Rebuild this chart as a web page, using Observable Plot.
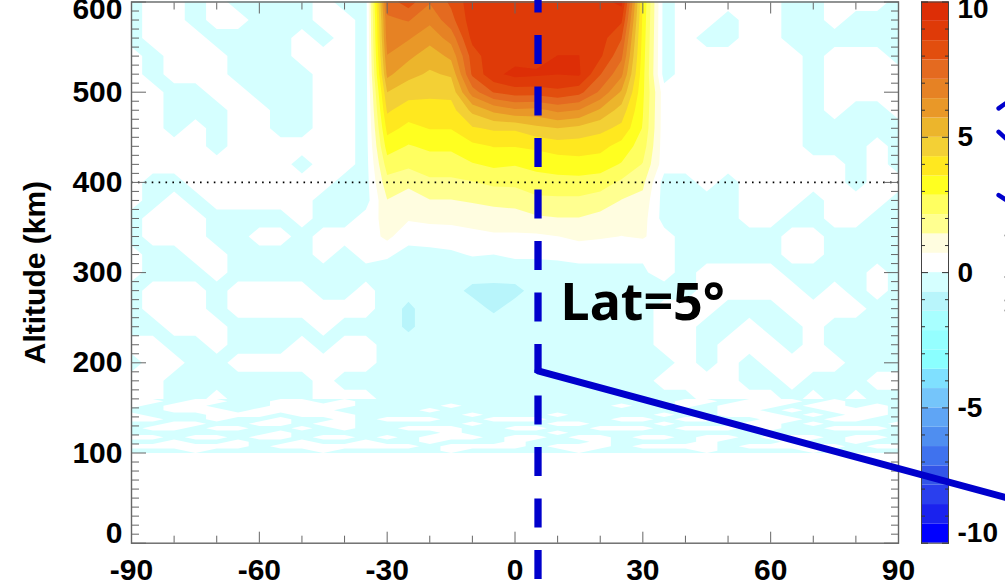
<!DOCTYPE html>
<html>
<head>
<meta charset="utf-8">
<script src="https://cdn.jsdelivr.net/npm/d3@7"></script>
<script src="https://cdn.jsdelivr.net/npm/@observablehq/plot@0.6"></script>
<style>
html,body{margin:0;padding:0;background:#fff;overflow:hidden;width:1005px;height:581px}
#wrap{position:relative;width:1005px;height:581px}
#wrap svg{position:absolute;top:0;left:0;background:transparent}
</style>
</head>
<body>
<div id="wrap"></div>
<script>
// Sampled field: w = weakly positive (white), c = weakly negative (palest blue)
const weak = {w: 0.3, c: -0.3};
// latitudes -90..-35 by 5, altitudes 600..160 by 20
const outerLeft = ["cwwcwccccwcc","cwwcwwcccwwc","cwwwccccwcwc","wcwwwcccwwwc","wcwwwccccwwc","wwccwwcccwwc",
"wwcccwwccwwc","wwcwcwwccwwc","wwwwcwwwwwwc","wwwwwwwwcwwc","wccwwwwwwwcc","wcwcwwwwwccc","cwwwccccwccw",
"cwwwccwwcwww","wccwwccccwcw","wcccwccccccc","cwwwcwwwwccw","cwwwcwwwwwww","ccwwwccccwcc","wwccwcccwcww",
"cwwccwwwwwww","wwcccccccwcc","wwccwccccwww"];
// latitudes 35..90 by 5, same altitudes
const outerRight = ["cwwwwwccwwwc","cwwcwwccwccc","cwccwwcccccc","cwwwwwwcwwwc","cwwwwwwcwwww","wwwwwwwcwwww",
"wwwwwwwcwccw","wwwwwwwccccc","wwwwwwwcccwc","wwwwwwwwwcwc","ccwcwwwwwcww","ccccwwwcwwwc","ccccwwccwwcc",
"wcccccwwcccc","wcccccwwcccc","wcwwwwccccwc","ccwwwwwcwcwc","wwwcccwwwwcc","wwccwccwcccc","wwcwwwcwcccc",
"cwcwcwwwwccc","wwwwccwcccww","ccwwwwcwcwcc"];
// central band, latitudes -30..30 by 5, altitudes 600..300 by 20 (one list per latitude)
const moundM30 = [7.5,7,6.8,6.4,5.9,5,4.4,3.8,3.2,2.5,1.9,1.4,1,0.9,0.1,-0.3];
const moundM25 = [8.2,7.2,6.5,5.9,5.2,4.6,3.9,3.4,2.8,2.3,1.6,1.1,0.8,0.2,-0.2,-0.4];
const moundM20 = [7.2,6.6,6,5.3,4.9,4.5,3.9,3.6,3,2.5,2,1.4,0.9,0.3,-0.2,-0.4];
const moundM15 = [8,7.6,6.7,5.9,5.1,4.5,4,3.6,3,2.5,2,1.4,0.95,0.3,-0.1,-0.4];
const moundM10 = [9,9,8.8,8.2,8,6.8,5.2,4.2,3.4,2.8,2.1,1.5,1,0.5,0.05,-0.4];
const moundM05 = [9,9,9,9.1,9.1,7.9,5.9,4.4,3.6,3,2.3,1.6,1.1,0.6,0,-0.4];
const moundP00 = [9,9,9,9,9.5,8.2,6.3,4.4,3.6,2.9,2.3,1.7,1.1,0.6,0.1,-0.3];
const moundP05 = [9,9,9,9,9.4,8.2,6.2,4.8,3.7,3.1,2.5,2,1.3,0.6,0.1,-0.3];
const moundP10 = [9,9,9,9.3,9.3,8.4,6.6,5,3.9,3.2,2.6,2,1.4,0.7,0.15,-0.3];
const moundP15 = [9,9,9,9.3,9.4,8.1,6.4,4.8,3.9,3.3,2.6,2,1.4,0.9,0.2,-0.2];
const moundP20 = [9,9,8.9,8.7,7.9,7,5.6,4.5,3.8,3.2,2.5,1.8,1.2,0.8,0.2,-0.2];
const moundP25 = [9.5,8.7,7.9,7.3,6.6,5.6,4.7,4.1,3.3,2.8,2,1.4,1,0.7,0.2,-0.2];
const moundP30 = [3.5,3.4,3.3,3.2,3.1,3,2.9,2.8,2.5,2.1,1.6,1.2,1,0.8,0.1,-0.1];
const mound = [moundM30,moundM25,moundM20,moundM15,moundM10,moundM05,moundP00,moundP05,moundP10,moundP15,moundP20,moundP25,moundP30];
// central band, altitudes 280..160 by 20
const under = [
 [-.4,-.5,-.4,-.45,-.9,-.95,-.95,-.4,-.4,-.4,-.3,-.3,-.3],
 [-.4,-.85,-.4,-.3,-.4,-.85,-.4,-.3,-.4,-.3,-.3,-.3,-.3],
 [-.4,-.85,-.4,-.3,-.3,-.3,-.3,-.3,-.3,-.3,-.3,-.3,-.3],
 [-.3,-.4,-.3,-.3,-.3,-.3,-.3,-.3,-.3,-.3,-.3,-.3,-.3],
 [-.3,-.3,-.3,-.3,-.3,-.3,-.3,-.3,-.3,-.3,-.3,-.3,-.3],
 [-.3,-.3,-.3,-.3,-.3,-.3,-.3,-.3,-.3,-.3,-.3,-.3,-.3],
 [-.3,-.3,-.3,-.3,-.3,-.3,-.3,-.3,-.3,-.3,-.3,-.3,-.3]
];
// ripple layer, all latitudes by 5, altitudes 157.5..102.5 by 5
const ripple = [
"wwcwwccwwcwcccccccccccccccwwcwwwcwcc",
"wcwwcccwwwwccccwcccccccwccwcwwwcwwcwc",
"ccwwwcwwwwccccwcccccccccccccwwcwcwwwcc",
"wcccwwwcwwwcccccwcccwccccwccwwwcwcwwc",
"wwccwccwccwcwwwccwwwcccwwcwwccwwcwwcc",
"ccwwccwwcwwcccccwcccwwcccwcccwwcwcccw",
"cwwcwwccwcwccwwwccwwccwwwcwwwcwccwwwc",
"cccccccwcccccccwccccwcccccccccccccccc",
"wwcwwcwwcwwcwcwwwcwwcwwcwwcwwcwwwcwwc",
"ccwccwccwccwccwcccwcccwccccwcccwccwcc",
"wwwwwwcwwwwwwwcwwwwcwwwcwwwwcwwwwwcww",
"cccwcccccwcccccwcccccwcccccwccccwcccc"
];
// Colour bands, low to high
const bandColors = ["#0000ff","#1a22ee","#2a3fee","#3355e8","#3f72ee","#4f8ef0","#5fa5f5","#75c5fa","#7fe0ff","#8affff","#95ffff","#a8ffff","#b8f5fb","#d5ffff",
"#ffffff","#fffde0","#ffff90","#ffff60","#ffff20","#ffe81f","#f3d035","#ecb52c","#e99828","#e68224","#e46a20","#e24e0e","#df3a08","#dd2e06"];
const latTicksMajor = [-90,-60,-30,0,30,60,90];
const latTicksMinor = [-80,-70,-50,-40,-20,-10,10,20,40,50,70,80];
const altTicksMajor = [0,100,200,300,400,500,600];
const altTicksMinor = [10,20,30,40,50,60,70,80,90,110,120,130,140,150,160,170,180,190,210,220,230,240,250,260,270,280,290,310,320,330,340,350,360,370,380,390,410,420,430,440,450,460,470,480,490,510,520,530,540,550,560,570,580,590];
const scaleMajor = [-10,-5,0,5,10];
const scaleMinor = [-9,-8,-7,-6,-4,-3,-2,-1,1,2,3,4,6,7,8,9];
// Annotations
const sliceLat = 5.4;
const pointer = [{lat:5.4,alt:191},{lat:115.1,alt:50.7}];
const braceBits = [
 [{lat:113.5,alt:482},{lat:115.1,alt:487.5}],
 [{lat:113.5,alt:456},{lat:115.1,alt:449}],
 [{lat:113.5,alt:386},{lat:115.1,alt:381}]
];
const greyBits = [{lat:115,alt:341},{lat:115,alt:295},{lat:115,alt:269},{lat:115,alt:258}];

const levels = d3.range(29).map(i => -10 + i*5/7);
const decode = s => Array.from(s, ch => weak[ch]);

const mainGrid = [];
outerLeft.forEach((left,r) => {
  const mid = r < 16 ? mound.map(col => col[r]) : under[r-16];
  mainGrid.push(...decode(left), ...mid, ...decode(outerRight[r]));
});
const rippleGrid = ripple.flatMap(s => decode(s.padEnd(37,"c").slice(0,37)));

const font = "'Liberation Sans',Arial,sans-serif";
const axisStroke = "#666";
const color = {type:"threshold",domain:levels.slice(1,-1),range:bandColors};
const thresholds = levels.slice(12,-1);
const plain = d => String(d);
const none = () => null;

const main = Plot.plot({
  width:1005,height:581,
  marginLeft:131,marginRight:107,marginTop:1.5,marginBottom:38.3,
  style:{background:"transparent",fontFamily:font},
  x:{domain:[-90,90],range:[131,898],axis:null},
  y:{domain:[0,600],range:[542.7,1.5],axis:null},
  color,
  marks:[
    Plot.contour(mainGrid,{value:Plot.identity,width:37,height:23,x1:-92.5,x2:92.5,y1:610,y2:150,thresholds,fill:"value",clip:true}),
    Plot.contour(rippleGrid,{value:Plot.identity,width:37,height:12,x1:-92.5,x2:92.5,y1:160,y2:100,thresholds,fill:"value",clip:true}),
    Plot.ruleY([400],{stroke:"#000",strokeWidth:1.6,strokeDasharray:"1.6,5.3"}),
    Plot.frame({stroke:axisStroke,strokeWidth:1.4}),
    Plot.axisX({anchor:"bottom",ticks:latTicksMajor,tickSize:-11,tickFormat:none,stroke:axisStroke,label:null}),
    Plot.axisX({anchor:"bottom",ticks:latTicksMinor,tickSize:-7,tickFormat:none,stroke:axisStroke,label:null}),
    Plot.axisX({anchor:"top",ticks:latTicksMajor,tickSize:-11,tickFormat:none,stroke:axisStroke,label:null}),
    Plot.axisX({anchor:"top",ticks:latTicksMinor,tickSize:-7,tickFormat:none,stroke:axisStroke,label:null}),
    Plot.axisY({anchor:"left",ticks:altTicksMajor,tickSize:-15,tickFormat:none,stroke:axisStroke,label:null}),
    Plot.axisY({anchor:"left",ticks:altTicksMinor,tickSize:-8,tickFormat:none,stroke:axisStroke,label:null}),
    Plot.axisY({anchor:"right",ticks:altTicksMajor,tickSize:-15,tickFormat:none,stroke:axisStroke,label:null}),
    Plot.axisY({anchor:"right",ticks:altTicksMinor,tickSize:-8,tickFormat:none,stroke:axisStroke,label:null}),
    Plot.axisX({anchor:"bottom",ticks:latTicksMajor,tickSize:0,tickPadding:15,fontSize:30,fontWeight:"bold",color:"#000",label:null,tickFormat:plain}),
    Plot.axisY({anchor:"left",ticks:[100,200,300,400,500],tickSize:0,tickPadding:9,fontSize:30,fontWeight:"bold",color:"#000",label:null,tickFormat:plain}),
    Plot.axisY({anchor:"left",ticks:[0],tickSize:0,tickPadding:9,dy:-10,fontSize:30,fontWeight:"bold",color:"#000",label:null,tickFormat:plain}),
    Plot.axisY({anchor:"left",ticks:[600],tickSize:0,tickPadding:9,dy:7,fontSize:30,fontWeight:"bold",color:"#000",label:null,tickFormat:plain}),
    Plot.text(["Altitude (km)"],{frameAnchor:"left",dx:-96,textAnchor:"middle",rotate:-90,fontSize:30,fontWeight:"bold",fill:"#000"}),
    Plot.ruleX([sliceLat],{y1:620,y2:-44,stroke:"#0000cc",strokeWidth:7.3,strokeDasharray:"29,22.5"}),
    Plot.line(pointer,{x:"lat",y:"alt",stroke:"#0000cc",strokeWidth:7}),
    ...braceBits.map(b => Plot.line(b,{x:"lat",y:"alt",stroke:"#0000cc",strokeWidth:4.5,strokeLinecap:"round"})),
    Plot.dot(greyBits,{x:"lat",y:"alt",r:1,fill:"#aaa"}),
    Plot.text(["Lat=5°"],{x:10.7,y:266,textAnchor:"start",fontSize:52,fontWeight:"bold",fontFamily:"'Noto Sans'",fill:"#000",style:{letterSpacing:"2.5px"}})
  ]
});

const bar = Plot.plot({
  width:1005,height:581,
  marginLeft:921,marginRight:57,marginTop:1.5,marginBottom:38.3,
  style:{background:"transparent",fontFamily:font},
  x:{domain:[0,1],range:[921,948],axis:null},
  y:{domain:[-10,10],range:[542.7,1.5],axis:null},
  color,
  marks:[
    Plot.rect(levels.slice(0,-1),{x1:0,x2:1,y1:d=>d,y2:(d,i)=>levels[i+1],fill:d=>d}),
    Plot.frame({stroke:"#444",strokeWidth:1}),
    Plot.axisY({anchor:"left",ticks:scaleMajor,tickSize:-7,tickFormat:none,stroke:"#333",label:null}),
    Plot.axisY({anchor:"right",ticks:scaleMajor,tickSize:-7,tickFormat:none,stroke:"#333",label:null}),
    Plot.axisY({anchor:"left",ticks:scaleMinor,tickSize:-4,tickFormat:none,stroke:"#333",label:null}),
    Plot.axisY({anchor:"right",ticks:scaleMinor,tickSize:-4,tickFormat:none,stroke:"#333",label:null}),
    Plot.axisY({anchor:"right",ticks:[-5,0,5],tickSize:0,tickPadding:9,fontSize:28,fontWeight:"bold",color:"#000",label:null,tickFormat:plain}),
    Plot.axisY({anchor:"right",ticks:[-10],tickSize:0,tickPadding:9,dy:-10,fontSize:28,fontWeight:"bold",color:"#000",label:null,tickFormat:plain}),
    Plot.axisY({anchor:"right",ticks:[10],tickSize:0,tickPadding:9,dy:7,fontSize:28,fontWeight:"bold",color:"#000",label:null,tickFormat:plain})
  ]
});

const wrap = document.getElementById("wrap");
wrap.append(bar, main);
</script>
</body>
</html>
